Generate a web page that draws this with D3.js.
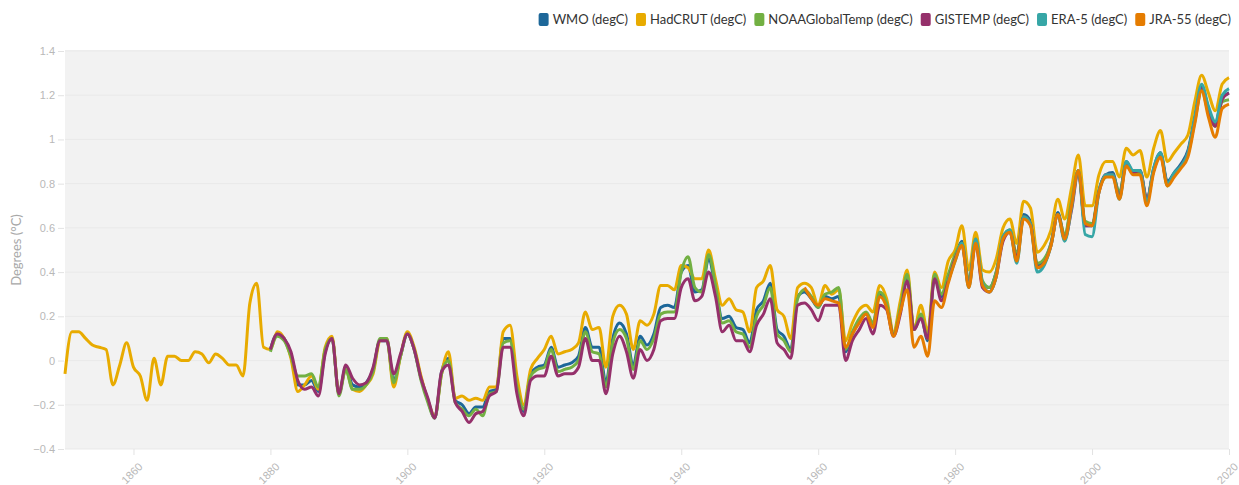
<!DOCTYPE html>
<html>
<head>
<meta charset="utf-8">
<script src="https://cdn.jsdelivr.net/npm/d3@7"></script>
<style>
  body { margin: 0; background: #fff; }
  svg { font-family: "Source Sans Pro", Lato, "Open Sans", sans-serif; }
</style>
</head>
<body>
<svg id="chart" width="1239" height="485"></svg>
<script>
// series names and colours (legend order)
const seriesNames = ["WMO (degC)", "HadCRUT (degC)", "NOAAGlobalTemp (degC)", "GISTEMP (degC)", "ERA-5 (degC)", "JRA-55 (degC)"];
const seriesColors = ["#1d6799", "#e8ab00", "#72b043", "#95306b", "#36a6a6", "#e57c00"];
const startYears = [1880, 1850, 1880, 1880, 1979, 1958];

const yTicks = [-0.4, -0.2, 0, 0.2, 0.4, 0.6, 0.8, 1, 1.2, 1.4];
const xTicks = [1860, 1880, 1900, 1920, 1940, 1960, 1980, 2000, 2020];

// annual anomalies, one value per year from the start year
const wmo = [
  0.05, 0.12, 0.10, 0.02, -0.11, -0.11, -0.09, -0.14, 0.04, 0.10, // 1880
  -0.15, -0.03, -0.11, -0.12, -0.10, -0.04, 0.09, 0.09, -0.09, 0.02, // 1890
  0.12, 0.05, -0.08, -0.18, -0.26, -0.05, 0.01, -0.18, -0.20, -0.24, // 1900
  -0.21, -0.21, -0.14, -0.13, 0.10, 0.10, -0.11, -0.23, -0.06, -0.03, // 1910
  -0.02, 0.06, -0.03, -0.02, -0.01, 0.02, 0.15, 0.06, 0.06, -0.10, // 1920
  0.10, 0.17, 0.12, -0.02, 0.11, 0.07, 0.12, 0.24, 0.25, 0.24, // 1930
  0.40, 0.43, 0.31, 0.32, 0.46, 0.33, 0.19, 0.20, 0.15, 0.14, // 1940
  0.08, 0.23, 0.27, 0.35, 0.14, 0.11, 0.05, 0.29, 0.31, 0.28, // 1950
  0.24, 0.29, 0.28, 0.29, 0.04, 0.12, 0.18, 0.21, 0.16, 0.30, // 1960
  0.25, 0.12, 0.24, 0.37, 0.14, 0.20, 0.09, 0.38, 0.29, 0.38, // 1970
  0.47, 0.54, 0.35, 0.55, 0.35, 0.33, 0.40, 0.55, 0.59, 0.47, // 1980
  0.66, 0.63, 0.43, 0.45, 0.53, 0.67, 0.56, 0.71, 0.86, 0.61, // 1990
  0.61, 0.77, 0.84, 0.85, 0.75, 0.90, 0.85, 0.86, 0.73, 0.87, // 2000
  0.94, 0.81, 0.85, 0.89, 0.95, 1.10, 1.24, 1.14, 1.07, 1.19, // 2010
  1.21
];
const hadcrut = [
  -0.06, 0.13, 0.13, 0.10, 0.07, 0.06, 0.05, -0.11, -0.02, 0.08, // 1850
  -0.03, -0.07, -0.18, 0.01, -0.11, 0.02, 0.02, 0.00, 0.00, 0.04, // 1860
  0.03, -0.01, 0.03, 0.01, -0.02, -0.02, -0.07, 0.26, 0.35, 0.06, // 1870
  0.05, 0.13, 0.10, 0.01, -0.14, -0.11, -0.07, -0.13, 0.06, 0.11, // 1880
  -0.15, -0.04, -0.13, -0.14, -0.11, -0.06, 0.09, 0.10, -0.12, 0.02, // 1890
  0.13, 0.06, -0.07, -0.18, -0.25, -0.06, 0.04, -0.17, -0.16, -0.18, // 1900
  -0.17, -0.18, -0.12, -0.12, 0.13, 0.16, -0.07, -0.20, -0.04, 0.01, // 1910
  0.05, 0.11, 0.03, 0.04, 0.05, 0.08, 0.22, 0.14, 0.15, -0.03, // 1920
  0.20, 0.25, 0.21, 0.05, 0.18, 0.16, 0.21, 0.34, 0.34, 0.32, // 1930
  0.43, 0.42, 0.37, 0.37, 0.50, 0.37, 0.25, 0.28, 0.23, 0.22, // 1940
  0.13, 0.33, 0.36, 0.43, 0.23, 0.20, 0.10, 0.33, 0.35, 0.33, // 1950
  0.25, 0.34, 0.30, 0.32, 0.09, 0.17, 0.23, 0.25, 0.22, 0.34, // 1960
  0.28, 0.13, 0.27, 0.41, 0.14, 0.25, 0.13, 0.40, 0.33, 0.45, // 1970
  0.50, 0.61, 0.41, 0.58, 0.41, 0.40, 0.46, 0.60, 0.64, 0.53, // 1980
  0.72, 0.69, 0.49, 0.52, 0.59, 0.73, 0.64, 0.78, 0.93, 0.70, // 1990
  0.70, 0.84, 0.90, 0.90, 0.83, 0.96, 0.93, 0.95, 0.83, 0.96, // 2000
  1.04, 0.90, 0.94, 0.98, 1.02, 1.17, 1.29, 1.21, 1.13, 1.25, // 2010
  1.28
];
const noaa = [
  0.04, 0.11, 0.09, 0.02, -0.07, -0.07, -0.06, -0.12, 0.05, 0.10, // 1880
  -0.16, -0.04, -0.13, -0.13, -0.11, -0.05, 0.10, 0.10, -0.10, 0.02, // 1890
  0.12, 0.05, -0.09, -0.19, -0.26, -0.06, 0.00, -0.19, -0.22, -0.25, // 1900
  -0.22, -0.25, -0.15, -0.14, 0.08, 0.09, -0.12, -0.22, -0.07, -0.04, // 1910
  -0.03, 0.05, -0.05, -0.04, -0.03, 0.00, 0.13, 0.04, 0.03, -0.12, // 1920
  0.08, 0.14, 0.10, -0.04, 0.09, 0.05, 0.10, 0.21, 0.22, 0.22, // 1930
  0.40, 0.47, 0.33, 0.31, 0.48, 0.34, 0.17, 0.18, 0.13, 0.12, // 1940
  0.06, 0.20, 0.25, 0.33, 0.12, 0.09, 0.04, 0.28, 0.32, 0.29, // 1950
  0.24, 0.30, 0.31, 0.33, 0.05, 0.13, 0.19, 0.22, 0.17, 0.31, // 1960
  0.26, 0.12, 0.24, 0.39, 0.14, 0.21, 0.10, 0.39, 0.30, 0.39, // 1970
  0.48, 0.53, 0.36, 0.55, 0.36, 0.33, 0.40, 0.56, 0.59, 0.48, // 1980
  0.65, 0.62, 0.44, 0.46, 0.53, 0.66, 0.57, 0.72, 0.86, 0.63, // 1990
  0.62, 0.77, 0.83, 0.84, 0.76, 0.89, 0.85, 0.85, 0.72, 0.86, // 2000
  0.93, 0.79, 0.84, 0.88, 0.93, 1.08, 1.22, 1.12, 1.06, 1.17, // 2010
  1.18
];
const gistemp = [
  0.05, 0.12, 0.10, 0.04, -0.09, -0.13, -0.12, -0.16, 0.03, 0.10, // 1880
  -0.15, -0.02, -0.08, -0.11, -0.10, -0.03, 0.09, 0.09, -0.06, 0.03, // 1890
  0.12, 0.05, -0.08, -0.17, -0.26, -0.05, -0.02, -0.19, -0.23, -0.28, // 1900
  -0.24, -0.23, -0.16, -0.14, 0.06, 0.06, -0.15, -0.25, -0.09, -0.07, // 1910
  -0.07, 0.02, -0.07, -0.06, -0.06, -0.03, 0.10, 0.00, 0.00, -0.15, // 1920
  0.03, 0.11, 0.04, -0.08, 0.05, 0.00, 0.05, 0.18, 0.19, 0.19, // 1930
  0.33, 0.37, 0.27, 0.29, 0.40, 0.29, 0.13, 0.16, 0.09, 0.09, // 1940
  0.04, 0.16, 0.21, 0.28, 0.08, 0.05, 0.01, 0.25, 0.26, 0.23, // 1950
  0.18, 0.25, 0.25, 0.25, 0.00, 0.09, 0.14, 0.19, 0.12, 0.25, // 1960
  0.23, 0.11, 0.21, 0.36, 0.14, 0.19, 0.10, 0.37, 0.27, 0.36, // 1970
  0.46, 0.52, 0.34, 0.53, 0.33, 0.31, 0.38, 0.54, 0.58, 0.46, // 1980
  0.65, 0.62, 0.42, 0.44, 0.52, 0.66, 0.55, 0.68, 0.85, 0.61, // 1990
  0.61, 0.76, 0.84, 0.84, 0.74, 0.89, 0.85, 0.86, 0.73, 0.86, // 2000
  0.93, 0.80, 0.84, 0.88, 0.94, 1.09, 1.23, 1.13, 1.06, 1.18, // 2010
  1.21
];
const era5 = [
  0.36, // 1979
  0.45, 0.53, 0.33, 0.55, 0.35, 0.31, 0.38, 0.56, 0.59, 0.44, // 1980
  0.65, 0.62, 0.40, 0.43, 0.52, 0.66, 0.54, 0.69, 0.86, 0.57, // 1990
  0.56, 0.76, 0.84, 0.84, 0.73, 0.90, 0.86, 0.86, 0.72, 0.87, // 2000
  0.94, 0.80, 0.85, 0.88, 0.94, 1.10, 1.25, 1.15, 1.08, 1.20, // 2010
  1.23
];
const jra55 = [
  0.33, 0.28, // 1958
  0.25, 0.28, 0.27, 0.26, 0.06, 0.12, 0.17, 0.21, 0.15, 0.29, // 1960
  0.24, 0.11, 0.22, 0.32, 0.06, 0.11, 0.02, 0.27, 0.24, 0.35, // 1970
  0.45, 0.52, 0.33, 0.53, 0.34, 0.31, 0.38, 0.55, 0.58, 0.45, // 1980
  0.64, 0.61, 0.42, 0.44, 0.52, 0.66, 0.55, 0.70, 0.86, 0.62, // 1990
  0.61, 0.76, 0.83, 0.83, 0.73, 0.88, 0.84, 0.84, 0.70, 0.85, // 2000
  0.92, 0.79, 0.83, 0.87, 0.92, 1.07, 1.22, 1.10, 1.01, 1.14, // 2010
  1.16
];
const seriesValues = [wmo, hadcrut, noaa, gistemp, era5, jra55];

const svg = d3.select("#chart");
const plotLeft = 65, plotRight = 1229, plotTop = 51, plotBottom = 449;

const x = d3.scaleLinear().domain([1850, 2020]).range([plotLeft, plotRight]);
const y = d3.scaleLinear().domain([-0.4, 1.4]).range([plotBottom, plotTop]);

// plot background
svg.append("rect")
  .attr("x", plotLeft).attr("y", plotTop - 1)
  .attr("width", plotRight - plotLeft).attr("height", plotBottom - plotTop + 1)
  .attr("fill", "#f2f2f2");

// grid lines
svg.append("g").selectAll("line")
  .data(yTicks)
  .join("line")
  .attr("x1", plotLeft).attr("x2", plotRight)
  .attr("y1", d => y(d)).attr("y2", d => y(d))
  .attr("stroke", "#e9e9e9").attr("stroke-width", 1);

// y axis
const yAxis = svg.append("g")
  .attr("transform", `translate(${plotLeft - 1},0)`)
  .call(d3.axisLeft(y).tickValues(yTicks).tickSize(6).tickPadding(3).tickFormat(d => d3.format("~g")(d)));
yAxis.select(".domain").remove();
yAxis.selectAll(".tick line").attr("stroke", "#e2e2e2");
yAxis.selectAll(".tick text").attr("fill", "#b8b8b8").style("font-size", "11px");

svg.append("text")
  .attr("transform", `translate(21,${(plotTop + plotBottom) / 2}) rotate(-90)`)
  .attr("text-anchor", "middle")
  .attr("fill", "#a8a8a8")
  .style("font-size", "13px")
  .text("Degrees (°C)");

// x axis
const xAxis = svg.append("g")
  .attr("transform", `translate(0,${plotBottom})`)
  .call(d3.axisBottom(x).tickValues(xTicks).tickSize(6).tickFormat(d3.format("d")));
xAxis.select(".domain").remove();
xAxis.selectAll(".tick line").attr("stroke", "#e2e2e2");
xAxis.selectAll(".tick text")
  .attr("fill", "#b8b8b8")
  .style("font-size", "11px")
  .attr("text-anchor", "end")
  .attr("dy", null)
  .attr("transform", "translate(3,12) rotate(-45)");

// lines
const line = d3.line()
  .x(d => x(d.year))
  .y(d => y(d.value))
  .curve(d3.curveMonotoneX);

seriesValues.forEach((vals, i) => {
  const pts = vals.map((v, k) => ({ year: startYears[i] + k, value: v }));
  svg.append("path")
    .datum(pts)
    .attr("fill", "none")
    .attr("stroke", seriesColors[i])
    .attr("stroke-width", 3)
    .attr("stroke-linejoin", "round")
    .attr("d", line);
});

// legend, right aligned
const legend = svg.append("g");
const items = legend.selectAll("g").data(seriesNames).join("g");
items.append("rect")
  .attr("width", 10).attr("height", 13).attr("rx", 2)
  .attr("y", 13)
  .attr("fill", (d, i) => seriesColors[i]);
items.append("text")
  .attr("x", 14).attr("y", 24)
  .attr("fill", "#333")
  .style("font-size", "13px")
  .text(d => d);
let cursor = 1231;
const widths = [];
items.each(function () { widths.push(this.getBBox().width); });
for (let i = widths.length - 1; i >= 0; i--) {
  cursor -= widths[i];
  d3.select(items.nodes()[i]).attr("transform", `translate(${cursor},0)`);
  cursor -= 8;
}
</script>
</body>
</html>
